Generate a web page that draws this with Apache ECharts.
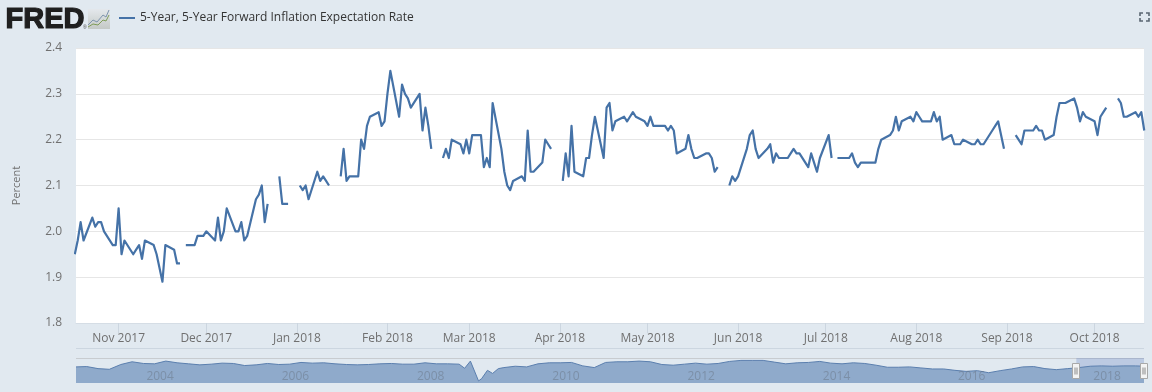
<!DOCTYPE html>
<html>
<head>
<meta charset="utf-8">
<title>5-Year, 5-Year Forward Inflation Expectation Rate</title>
<script src="https://cdn.jsdelivr.net/npm/echarts@6/dist/echarts.min.js"></script>
<style>
  html, body { margin: 0; padding: 0; background: #e1e9f0; }
  #chart { width: 1152px; height: 392px; }
</style>
</head>
<body>
<div id="chart"></div>
<script>
const seriesName = '5-Year, 5-Year Forward Inflation Expectation Rate';

// one value per weekday, null on market holidays
const oct2017 = [1.95, 1.98, 2.02, 1.98, 2.03, 2.01, 2.02, 2.02, 2.00, 1.97, 1.97];
const nov2017 = [2.05, 1.95, 1.98, 1.95, 1.96, 1.97, 1.94, 1.98, 1.97, 1.95, 1.92, 1.89, 1.97, 1.96, 1.93, 1.93, null, 1.97, 1.97, 1.99, 1.99, 1.99];
const dec2017 = [2.00, 1.98, 2.03, 1.98, 2.00, 2.05, 2.00, 2.00, 2.02, 1.98, 1.99, 2.07, 2.08, 2.10, 2.02, 2.06, null, 2.12, 2.06, 2.06, 2.06];
const jan2018 = [null, 2.10, 2.09, 2.10, 2.07, 2.13, 2.11, 2.12, 2.11, 2.10, null, 2.12, 2.18, 2.11, 2.12, 2.12, 2.20, 2.18, 2.23, 2.25, 2.26, 2.23, 2.24];
const feb2018 = [2.30, 2.35, 2.25, 2.32, 2.30, 2.29, 2.27, 2.30, 2.22, 2.27, 2.23, 2.18, null, 2.16, 2.18, 2.16, 2.20, 2.19, 2.17, 2.20];
const mar2018 = [2.17, 2.21, 2.21, 2.14, 2.16, 2.14, 2.28, 2.18, 2.13, 2.10, 2.09, 2.11, 2.12, 2.11, 2.22, 2.13, 2.13, 2.15, 2.20, 2.19, 2.18, null];
const apr2018 = [2.11, 2.17, 2.12, 2.23, 2.13, 2.12, 2.16, 2.16, 2.21, 2.25, 2.16, 2.27, 2.28, 2.22, 2.24, 2.25, 2.24, 2.25, 2.26, 2.25, 2.24];
const may2018 = [2.23, 2.25, 2.23, 2.23, 2.23, 2.22, 2.23, 2.22, 2.17, 2.18, 2.21, 2.18, 2.16, 2.16, 2.17, 2.17, 2.16, 2.13, 2.14, null, 2.10, 2.12, 2.11];
const jun2018 = [2.12, 2.18, 2.21, 2.22, 2.18, 2.16, 2.18, 2.19, 2.15, 2.17, 2.16, 2.16, 2.17, 2.18, 2.17, 2.17, 2.14, 2.17, 2.15, 2.13, 2.16];
const jul2018 = [2.21, 2.16, null, 2.16, 2.16, 2.16, 2.17, 2.15, 2.14, 2.15, 2.15, 2.15, 2.15, 2.18, 2.20, 2.21, 2.22, 2.25, 2.22, 2.24, 2.25, 2.24];
const aug2018 = [2.26, 2.25, 2.24, 2.24, 2.26, 2.24, 2.25, 2.20, 2.21, 2.19, 2.19, 2.19, 2.20, 2.19, 2.19, 2.20, 2.19, 2.19, 2.22, 2.23, 2.24, 2.21, 2.18];
const sep2018 = [null, 2.21, 2.20, 2.19, 2.22, 2.22, 2.23, 2.22, 2.22, 2.20, 2.21, 2.25, 2.28, 2.28, 2.28, 2.29, 2.27, 2.24, 2.26, 2.25];
const oct2018 = [2.24, 2.21, 2.25, 2.26, 2.27, null, 2.29, 2.28, 2.25, 2.25, 2.26, 2.25, 2.26, 2.22];

const monthDates = ['2017-11-01', '2017-12-01', '2018-01-01', '2018-02-01', '2018-03-01', '2018-04-01', '2018-05-01', '2018-06-01', '2018-07-01', '2018-08-01', '2018-09-01', '2018-10-01'];
const monthLabels = ['Nov 2017', 'Dec 2017', 'Jan 2018', 'Feb 2018', 'Mar 2018', 'Apr 2018', 'May 2018', 'Jun 2018', 'Jul 2018', 'Aug 2018', 'Sep 2018', 'Oct 2018'];

// navigator overview, whole history of the series
const navDates = [
  '2003-01-02', '2003-03-01', '2003-05-01', '2003-07-01', '2003-09-01', '2003-11-01',
  '2004-01-01', '2004-03-01', '2004-05-01', '2004-07-01', '2004-09-01', '2004-11-01',
  '2005-01-01', '2005-03-01', '2005-05-01', '2005-07-01', '2005-09-01', '2005-11-01',
  '2006-01-01', '2006-03-01', '2006-05-01', '2006-07-01', '2006-09-01', '2006-11-01',
  '2007-01-01', '2007-03-01', '2007-05-01', '2007-07-01', '2007-09-01', '2007-11-01',
  '2008-01-01', '2008-03-01', '2008-05-01', '2008-07-01', '2008-09-01', '2008-10-01', '2008-11-01', '2008-12-15',
  '2009-01-01', '2009-02-01', '2009-03-01', '2009-04-01', '2009-05-01', '2009-07-01', '2009-09-01', '2009-11-01',
  '2010-01-01', '2010-03-01', '2010-05-01', '2010-07-01', '2010-09-01', '2010-11-01',
  '2011-01-01', '2011-03-01', '2011-05-01', '2011-07-01', '2011-09-01', '2011-11-01',
  '2012-01-01', '2012-03-01', '2012-05-01', '2012-07-01', '2012-09-01', '2012-11-01',
  '2013-01-01', '2013-03-01', '2013-05-01', '2013-07-01', '2013-09-01', '2013-11-01',
  '2014-01-01', '2014-03-01', '2014-05-01', '2014-07-01', '2014-09-01', '2014-11-01',
  '2015-01-01', '2015-03-01', '2015-05-01', '2015-07-01', '2015-09-01', '2015-11-01',
  '2016-01-01', '2016-03-01', '2016-05-01', '2016-07-01', '2016-09-01', '2016-11-01',
  '2017-01-01', '2017-03-01', '2017-05-01', '2017-07-01', '2017-09-01', '2017-11-01',
  '2018-01-01', '2018-03-01', '2018-05-01', '2018-07-01', '2018-09-01', '2018-10-18'
];
const navValues = [
  2.05, 2.10, 1.80, 1.70, 2.40, 2.80,
  2.55, 2.50, 2.90, 2.65, 2.50, 2.35,
  2.45, 2.60, 2.55, 2.25, 2.35, 2.55,
  2.40, 2.45, 2.70, 2.60, 2.65, 2.50,
  2.40, 2.35, 2.40, 2.50, 2.55, 2.45,
  2.45, 2.65, 2.50, 2.50, 2.45, 1.85, 2.90, 0.00,
  0.35, 1.55, 1.10, 1.80, 1.95, 2.15, 2.05, 2.50,
  2.65, 2.65, 2.70, 2.20, 1.95, 2.70,
  2.80, 2.80, 2.90, 2.80, 2.40, 2.30,
  2.45, 2.60, 2.45, 2.55, 2.85, 3.00,
  3.00, 3.00, 2.75, 2.50, 2.65, 2.70,
  2.85, 2.60, 2.50, 2.65, 2.55, 2.30,
  2.00, 2.00, 2.05, 1.90, 1.75, 1.75,
  1.55, 1.40, 1.50, 1.20, 1.50, 1.75,
  2.05, 2.10, 1.80, 1.65, 1.80, 1.95,
  2.15, 2.20, 2.15, 2.20, 2.20, 2.15
];
const navYearDates = ['2004-01-01', '2006-01-01', '2008-01-01', '2010-01-01', '2012-01-01', '2014-01-01', '2016-01-01', '2018-01-01'];
const navYearLabels = ['2004', '2006', '2008', '2010', '2012', '2014', '2016', '2018'];

// window shown in the main plot
const rangeStart = new Date(2017, 9, 17, 10).getTime();
const rangeEnd = new Date(2018, 9, 17, 22).getTime();

const rateValues = [].concat(oct2017, nov2017, dec2017, jan2018, feb2018, mar2018, apr2018, may2018, jun2018, jul2018, aug2018, sep2018, oct2018);

// pair the values with the weekdays they belong to
function buildRateData() {
  let rows = [];
  let d = new Date(2017, 9, 17);
  let i = 0;
  while (i < rateValues.length) {
    if (d.getDay() !== 0 && d.getDay() !== 6) {
      rows.push([d.getTime(), rateValues[i]]);
      i++;
    }
    d.setDate(d.getDate() + 1);
  }
  return rows;
}

function toTime(s) {
  let p = s.split('-');
  return new Date(+p[0], +p[1] - 1, +p[2]).getTime();
}

const fontName = '"Open Sans", sans-serif';
const chart = echarts.init(document.getElementById('chart'));

const monthTimes = monthDates.map(toTime);
const yearTimes = navYearDates.map(toTime);

function bracket(points) {
  return {
    type: 'polyline',
    shape: { points: points },
    style: { stroke: '#5a6672', lineWidth: 1.6, fill: null }
  };
}

chart.setOption({
  animation: false,
  backgroundColor: '#e1e9f0',
  textStyle: { fontFamily: fontName },
  legend: {
    left: 119,
    top: 12,
    padding: 0,
    data: [seriesName],
    icon: 'rect',
    itemWidth: 16,
    itemHeight: 2,
    itemGap: 5,
    textStyle: { color: '#333333', fontSize: 12, fontFamily: fontName }
  },
  grid: [
    // main plot
    { left: 76, top: 48, width: 1068, height: 275, show: true, backgroundColor: '#ffffff', borderWidth: 0 },
    // navigator
    { left: 76, top: 358, width: 1068, height: 25, show: false }
  ],
  xAxis: [
    {
      // value axis on timestamps, so the month ticks can be listed explicitly
      type: 'value',
      gridIndex: 0,
      min: rangeStart,
      max: rangeEnd,
      splitLine: { show: false },
      axisLine: { show: true, onZero: false, lineStyle: { color: '#d5dde5', width: 1 } },
      axisTick: { show: true, length: 10, customValues: monthTimes, lineStyle: { color: '#ccd6e0' } },
      axisLabel: {
        customValues: monthTimes,
        color: '#707070',
        fontSize: 12,
        fontFamily: fontName,
        margin: 10,
        hideOverlap: false,
        formatter: function (value) {
          return monthLabels[monthTimes.indexOf(value)];
        }
      }
    },
    {
      type: 'value',
      gridIndex: 1,
      z: 4,
      min: toTime(navDates[0]),
      max: rangeEnd,
      splitLine: { show: false },
      axisLine: { show: false, onZero: false },
      axisTick: { show: false },
      axisLabel: {
        inside: true,
        customValues: yearTimes,
        color: 'rgba(100,110,125,0.45)',
        fontSize: 12,
        fontFamily: fontName,
        align: 'left',
        margin: 0,
        padding: [0, 0, 0, 3],
        hideOverlap: false,
        formatter: function (value) {
          return navYearLabels[yearTimes.indexOf(value)];
        }
      }
    }
  ],
  yAxis: [
    {
      type: 'value',
      gridIndex: 0,
      min: 1.8,
      max: 2.4,
      interval: 0.1,
      name: 'Percent',
      nameLocation: 'middle',
      nameGap: 54,
      nameRotate: 90,
      nameTextStyle: { color: '#707070', fontSize: 11, fontFamily: fontName },
      axisLine: { show: false },
      axisTick: { show: false },
      splitLine: { show: true, lineStyle: { color: '#e6e6e6', width: 1 } },
      axisLabel: {
        color: '#707070',
        fontSize: 12,
        fontFamily: fontName,
        margin: 14,
        formatter: function (value) {
          return value.toFixed(1);
        }
      }
    },
    {
      type: 'value',
      gridIndex: 1,
      min: -0.3,
      max: 3.35,
      show: false,
      splitLine: { show: false }
    }
  ],
  series: [
    {
      name: seriesName,
      type: 'line',
      xAxisIndex: 0,
      yAxisIndex: 0,
      data: buildRateData(),
      showSymbol: false,
      connectNulls: false,
      clip: true,
      lineStyle: { color: '#4572a7', width: 2.2, join: 'round' },
      itemStyle: { color: '#4572a7' }
    },
    {
      name: 'navigator',
      type: 'line',
      xAxisIndex: 1,
      yAxisIndex: 1,
      data: navDates.map(function (s, i) { return [toTime(s), navValues[i]]; }),
      showSymbol: false,
      silent: true,
      lineStyle: { color: '#5b7fae', width: 1 },
      itemStyle: { color: '#5b7fae' },
      areaStyle: { color: '#8faacb', opacity: 1, origin: 'start' },
      markArea: {
        silent: true,
        itemStyle: { color: 'rgba(102,133,194,0.3)' },
        data: [[{ xAxis: rangeStart }, { xAxis: rangeEnd }]]
      }
    },
    {
      // the two drag handles of the navigator
      name: 'handles',
      type: 'custom',
      xAxisIndex: 1,
      yAxisIndex: 1,
      silent: true,
      z: 5,
      clip: false,
      data: [[rangeStart, 1.52], [rangeEnd, 1.52]],
      renderItem: function (params, api) {
        let p = api.coord([api.value(0), api.value(1)]);
        let x = Math.round(p[0]) + 0.5;
        let y = Math.round(p[1]) + 0.5;
        return {
          type: 'group',
          children: [
            { type: 'rect', shape: { x: x - 4, y: y - 8, width: 7, height: 15 }, style: { fill: '#f4f4f4', stroke: '#a8a8a8', lineWidth: 1 } },
            { type: 'line', shape: { x1: x - 1.5, y1: y - 4, x2: x - 1.5, y2: y + 3 }, style: { stroke: '#8a8a8a', lineWidth: 1 } },
            { type: 'line', shape: { x1: x + 0.5, y1: y - 4, x2: x + 0.5, y2: y + 3 }, style: { stroke: '#8a8a8a', lineWidth: 1 } }
          ]
        };
      }
    }
  ],
  graphic: [
    // logo
    { type: 'text', left: 5, top: 5, style: { text: 'FRED', fill: '#1f1f1f', stroke: '#1f1f1f', lineWidth: 1.2, font: '900 29px "Liberation Sans", sans-serif' } },
    { type: 'text', left: 83, top: 25, style: { text: '®', fill: '#444444', font: '5px "Liberation Sans", sans-serif' } },
    {
      type: 'rect',
      shape: { x: 88, y: 9, width: 22, height: 20 },
      style: {
        fill: new echarts.graphic.LinearGradient(0, 0, 0, 1, [
          { offset: 0, color: '#e4e8ec' },
          { offset: 1, color: '#c4c9c6' }
        ])
      }
    },
    { type: 'polyline', shape: { points: [[88, 25], [93, 20], [97, 22], [103, 15], [106, 17], [109, 10]] }, style: { stroke: '#7d93ad', lineWidth: 1, fill: null } },
    { type: 'polyline', shape: { points: [[88, 27], [93, 24], [98, 25], [103, 20], [106, 21], [109, 15]] }, style: { stroke: '#7f9c58', lineWidth: 1, fill: null } },
    // fullscreen icon
    bracket([[1140, 16], [1140, 13], [1143, 13]]),
    bracket([[1146, 13], [1149, 13], [1149, 16]]),
    bracket([[1140, 18], [1140, 21], [1143, 21]]),
    bracket([[1146, 21], [1149, 21], [1149, 18]]),
    // rules above and over the navigator
    { type: 'line', shape: { x1: 76, y1: 348.5, x2: 1144, y2: 348.5 }, style: { stroke: '#ccd6e0', lineWidth: 1 } },
    { type: 'line', shape: { x1: 76, y1: 358.5, x2: 1144, y2: 358.5 }, style: { stroke: '#c8ccd0', lineWidth: 1 } }
  ]
});
</script>
</body>
</html>
